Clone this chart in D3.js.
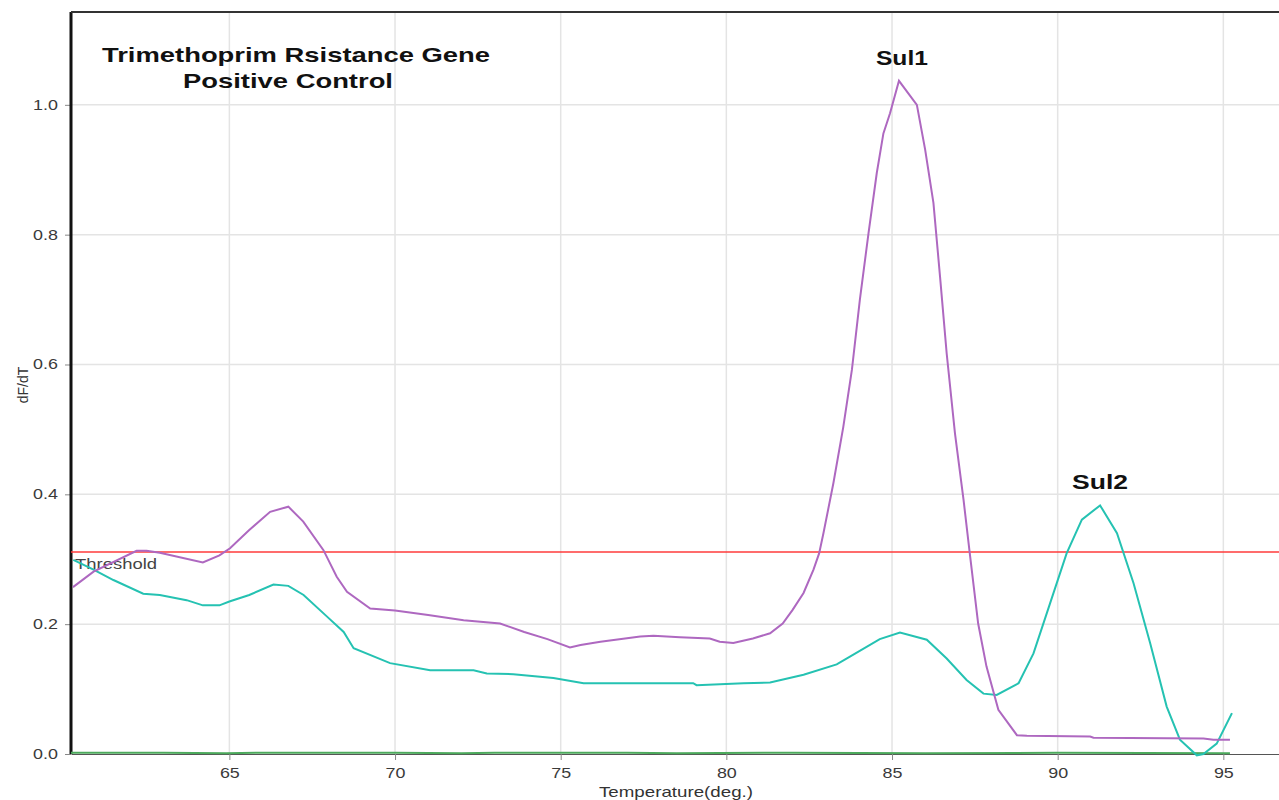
<!DOCTYPE html>
<html>
<head>
<meta charset="utf-8">
<script src="https://cdn.jsdelivr.net/npm/d3@7"></script>
<style>
	body { margin: 0; background: #fff; }
	svg { display: block; font-family: Arial, "Liberation Sans", sans-serif; }
</style>
</head>
<body>
<div id="chart-div"></div>
<script>
// melt curve traces: [temperature, dF/dT]
const sul1Trace = [
	[60.28, 0.257], [60.9, 0.281], [62.2, 0.313], [62.5, 0.313], [62.9, 0.310],
	[64.2, 0.295], [64.7, 0.306], [65.02, 0.317], [65.6, 0.345], [66.23, 0.373],
	[66.78, 0.381], [67.23, 0.358], [67.84, 0.314], [68.24, 0.273], [68.55, 0.250],
	[69.25, 0.224], [70.0, 0.221], [71.0, 0.214], [72.07, 0.206], [73.17, 0.201],
	[73.9, 0.188], [74.6, 0.177], [75.28, 0.164], [75.6, 0.168], [76.2, 0.173],
	[77.4, 0.181], [77.8, 0.182], [78.6, 0.180], [79.5, 0.178], [79.8, 0.173],
	[80.21, 0.171], [80.8, 0.178], [81.32, 0.186], [81.7, 0.201], [82.0, 0.222],
	[82.33, 0.248], [82.63, 0.284], [82.80, 0.309], [82.93, 0.340], [83.23, 0.417],
	[83.53, 0.504], [83.79, 0.592], [84.03, 0.700], [84.29, 0.802], [84.54, 0.895],
	[84.74, 0.956], [84.94, 0.987], [85.21, 1.037], [85.75, 1.000], [86.0, 0.931],
	[86.25, 0.849], [86.45, 0.735], [86.65, 0.617], [86.9, 0.494], [87.16, 0.391],
	[87.34, 0.312], [87.6, 0.201], [87.85, 0.135], [88.21, 0.068], [88.77, 0.029],
	[89.07, 0.028], [90.98, 0.027], [91.08, 0.025], [94.4, 0.024], [94.7, 0.022],
	[95.2, 0.022]
];

const sul2Trace = [
	[60.29, 0.299], [60.9, 0.284], [61.5, 0.268], [62.4, 0.247], [62.9, 0.245],
	[63.71, 0.237], [64.2, 0.229], [64.7, 0.229], [65.0, 0.235], [65.6, 0.245],
	[66.33, 0.261], [66.78, 0.259], [67.24, 0.245], [67.94, 0.212], [68.45, 0.188],
	[68.75, 0.163], [69.85, 0.140], [71.06, 0.129], [72.37, 0.129], [72.77, 0.124],
	[73.57, 0.123], [74.78, 0.117], [75.69, 0.109], [77.4, 0.109], [79.0, 0.109],
	[79.1, 0.106], [80.52, 0.109], [81.32, 0.110], [82.33, 0.122], [83.33, 0.138],
	[83.73, 0.150], [84.63, 0.177], [85.24, 0.187], [86.05, 0.176], [86.65, 0.147],
	[87.25, 0.114], [87.76, 0.093], [88.16, 0.091], [88.82, 0.109], [89.27, 0.155],
	[89.77, 0.232], [90.27, 0.309], [90.73, 0.361], [91.28, 0.383], [91.79, 0.340],
	[92.29, 0.263], [92.79, 0.171], [93.29, 0.073], [93.69, 0.022], [94.2, -0.002],
	[94.4, 0.000], [94.8, 0.016], [95.26, 0.063]
];

const blankTrace = [
	[60.22, 0.002], [63.0, 0.002], [64.9, 0.001], [66.0, 0.002], [70.0, 0.002],
	[72.0, 0.001], [73.0, 0.002], [77.0, 0.002], [78.5, 0.001], [82.0, 0.002],
	[86.0, 0.001], [90.0, 0.002], [95.2, 0.001]
];

const thresholdValue = 0.311;
const xTicks = [65, 70, 75, 80, 85, 90, 95];
const yTicks = [0.0, 0.2, 0.4, 0.6, 0.8, 1.0];
const titleLines = ["Trimethoprim Rsistance Gene", "Positive Control"];
const peakLabels = [
	{ name: "Sul1", temp: 85.33 },
	{ name: "Sul2", temp: 91.25 }
];

const width = 1279;
const height = 800;
const margin = { top: 12, left: 71, right: 0, bottom: 46 };
// text in the picture is drawn wider than the font's natural width
const stretch = 1.28;

const svg = d3.select("#chart-div")
	.append("svg")
	.attr("width", width)
	.attr("height", height);

const xScale = d3.scaleLinear()
	.domain([60.22, 96.68])
	.range([margin.left, width - margin.right]);

const yScale = d3.scaleLinear()
	.domain([0, 1.143])
	.range([height - margin.bottom, margin.top]);

// gridlines
svg.append("g")
	.selectAll("line")
	.data(xTicks)
	.join("line")
	.attr("x1", d => xScale(d))
	.attr("x2", d => xScale(d))
	.attr("y1", yScale(0))
	.attr("y2", margin.top)
	.attr("stroke", "#e4e4e4")
	.attr("stroke-width", 1.5);

svg.append("g")
	.selectAll("line")
	.data(yTicks.filter(d => d > 0))
	.join("line")
	.attr("x1", margin.left)
	.attr("x2", width)
	.attr("y1", d => yScale(d))
	.attr("y2", d => yScale(d))
	.attr("stroke", "#e4e4e4")
	.attr("stroke-width", 1.5);

// bottom axis
const xAxis = svg.append("g")
	.attr("transform", `translate(0, ${yScale(0)})`)
	.call(d3.axisBottom(xScale).tickValues(xTicks).tickSize(6).tickSizeOuter(0));
xAxis.select(".domain").attr("stroke", "#555");
xAxis.selectAll(".tick line").attr("stroke", "#888");
xAxis.selectAll("text")
	.attr("dy", "1.05em")
	.attr("transform", `scale(${stretch},1)`)
	.style("font-size", "14px")
	.style("fill", "#3a3a3a");

// left axis
const yAxis = svg.append("g")
	.attr("transform", `translate(${margin.left}, 0)`)
	.call(d3.axisLeft(yScale).tickValues(yTicks).tickFormat(d3.format(".1f")).tickSize(6).tickSizeOuter(0));
yAxis.select(".domain").remove();
yAxis.selectAll(".tick line").attr("stroke", "#888");
yAxis.selectAll("text")
	.attr("x", -13 / stretch)
	.attr("transform", `scale(${stretch},1)`)
	.style("font-size", "14px")
	.style("fill", "#3a3a3a");

// frame: thick left edge, top edge
svg.append("line")
	.attr("x1", margin.left).attr("x2", margin.left)
	.attr("y1", margin.top).attr("y2", yScale(0))
	.attr("stroke", "#111")
	.attr("stroke-width", 3);
svg.append("line")
	.attr("x1", margin.left).attr("x2", width)
	.attr("y1", margin.top).attr("y2", margin.top)
	.attr("stroke", "#333")
	.attr("stroke-width", 2);

// axis titles
svg.append("text")
	.text("Temperature(deg.)")
	.attr("x", 599)
	.attr("y", 797)
	.attr("textLength", 154)
	.attr("lengthAdjust", "spacingAndGlyphs")
	.style("font-size", "15px")
	.style("fill", "#333");

svg.append("text")
	.text("dF/dT")
	.style("text-anchor", "middle")
	.style("font-size", "14px")
	.style("fill", "#333")
	.attr("transform", `translate(28, ${385}) rotate(-90)`);

// threshold
svg.append("line")
	.attr("x1", margin.left)
	.attr("x2", width)
	.attr("y1", yScale(thresholdValue))
	.attr("y2", yScale(thresholdValue))
	.attr("stroke", "#ff3b3b")
	.attr("stroke-width", 1.5);

svg.append("text")
	.text("Threshold")
	.attr("x", margin.left + 4)
	.attr("y", yScale(thresholdValue) + 17)
	.attr("textLength", 82)
	.attr("lengthAdjust", "spacingAndGlyphs")
	.style("font-size", "14px")
	.style("fill", "#444");

// traces
const lineGenerator = d3.line()
	.x(d => xScale(d[0]))
	.y(d => yScale(d[1]));

const traces = [
	{ name: "blank", values: blankTrace, color: "#4caa5c" },
	{ name: "sul2", values: sul2Trace, color: "#25c2b2" },
	{ name: "sul1", values: sul1Trace, color: "#ae68c0" }
];

svg.append("g")
	.selectAll("path")
	.data(traces)
	.join("path")
	.attr("class", d => d.name)
	.attr("d", d => lineGenerator(d.values))
	.attr("stroke", d => d.color)
	.style("stroke-width", 2)
	.style("fill", "none");

// titles
const titleBoxes = [{ x: 102, len: 388 }, { x: 183, len: 210 }];
svg.selectAll(".title-line")
	.data(titleLines)
	.join("text")
	.attr("class", "title-line")
	.text(d => d)
	.attr("x", (d, i) => titleBoxes[i].x)
	.attr("y", (d, i) => 62 + i * 26)
	.attr("textLength", (d, i) => titleBoxes[i].len)
	.attr("lengthAdjust", "spacingAndGlyphs")
	.style("font-size", "21px")
	.style("font-weight", "bold")
	.style("fill", "#111");

svg.selectAll(".peak-label")
	.data(peakLabels)
	.join("text")
	.attr("class", "peak-label")
	.text(d => d.name)
	.attr("x", d => xScale(d.temp) - 27)
	.attr("y", (d, i) => (i === 0 ? 65 : 489))
	.attr("textLength", (d, i) => (i === 0 ? 52 : 56))
	.attr("lengthAdjust", "spacingAndGlyphs")
	.style("font-size", "20px")
	.style("font-weight", "bold")
	.style("fill", "#111");
</script>
</body>
</html>
